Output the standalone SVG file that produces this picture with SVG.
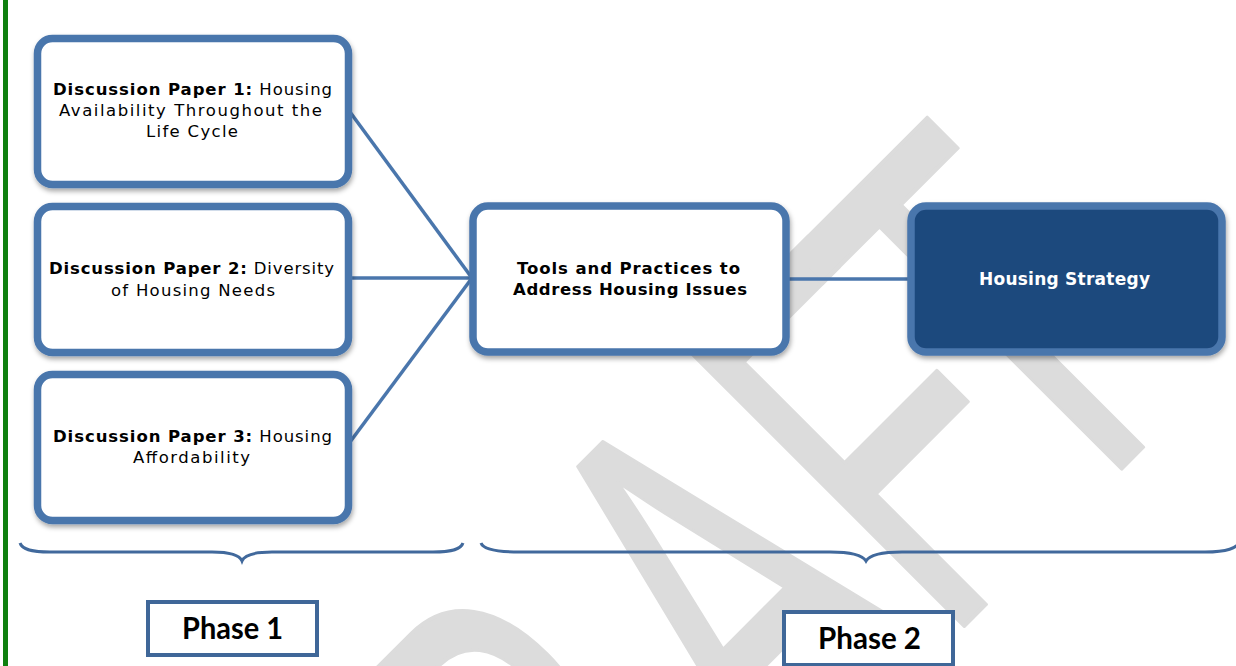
<svg xmlns="http://www.w3.org/2000/svg" width="1236" height="666" viewBox="0 0 1236 666">
<style>
.wm{font-family:"Liberation Sans",Arial,sans-serif;font-size:400px;fill:#dcdcdc;stroke:#dcdcdc;stroke-width:3;stroke-linejoin:round}
.box{fill:#ffffff;stroke:#4a76ac;stroke-width:7.5}
.dark{fill:#1f497d;stroke:#4a76ac;stroke-width:7.5}
.conn{stroke:#4a76ac;stroke-width:3.5;fill:none}
.brace{stroke:#41699c;stroke-width:3;fill:none}
.ph{fill:#ffffff;stroke:#3f6798;stroke-width:4}
.t{font-family:"DejaVu Sans",Verdana,sans-serif;font-size:16.5px;fill:#000}
.b{font-weight:bold}
.tw{font-family:"DejaVu Sans",Verdana,sans-serif;font-size:17px;font-weight:bold;fill:#ffffff}
.pt{font-family:Lato,"Liberation Sans",sans-serif;font-size:30px;font-weight:bold;fill:#000}
</style>
<defs>
<filter id="sh" x="-10%" y="-10%" width="120%" height="130%">
<feDropShadow dx="1" dy="3" stdDeviation="2.5" flood-color="#000" flood-opacity="0.35"/>
</filter>
</defs>
<rect x="3" y="0" width="5" height="666" fill="#0f800f"/>
<text class="wm" transform="translate(795,795) rotate(-45) scale(0.85,1.4)" x="-637 -348 -21 248 439" y="0">DRAFT</text>
<g id="connectors">
<line class="conn" x1="350" y1="112" x2="472" y2="278"/>
<line class="conn" x1="350" y1="278" x2="472" y2="278"/>
<line class="conn" x1="350" y1="442" x2="472" y2="278"/>
<line class="conn" x1="786" y1="279" x2="911" y2="279"/>
</g>
<g id="dp1">
<rect class="box" x="37.5" y="38.5" width="311" height="146" rx="15" filter="url(#sh)"/>
<text class="t" x="53" y="95" textLength="279" lengthAdjust="spacing"><tspan class="b">Discussion Paper 1:</tspan> Housing</text>
<text class="t" x="59" y="116" textLength="263" lengthAdjust="spacing">Availability Throughout the</text>
<text class="t" x="146" y="137" textLength="92" lengthAdjust="spacing">Life Cycle</text>
</g>
<g id="dp2">
<rect class="box" x="37.5" y="206.5" width="311" height="146" rx="15" filter="url(#sh)"/>
<text class="t" x="49" y="274" textLength="285" lengthAdjust="spacing"><tspan class="b">Discussion Paper 2:</tspan> Diversity</text>
<text class="t" x="111" y="296" textLength="164" lengthAdjust="spacing">of Housing Needs</text>
</g>
<g id="dp3">
<rect class="box" x="37.5" y="374.5" width="311" height="146" rx="15" filter="url(#sh)"/>
<text class="t" x="53" y="442" textLength="279" lengthAdjust="spacing"><tspan class="b">Discussion Paper 3:</tspan> Housing</text>
<text class="t" x="133" y="463" textLength="117" lengthAdjust="spacing">Affordability</text>
</g>
<g id="tools">
<rect class="box" x="473" y="206" width="313" height="146" rx="15" filter="url(#sh)"/>
<text class="t b" x="517" y="274" font-size="17" textLength="223" lengthAdjust="spacing">Tools and Practices to</text>
<text class="t b" x="513" y="295" font-size="17" textLength="234" lengthAdjust="spacing">Address Housing Issues</text>
</g>
<g id="strategy">
<rect class="dark" x="911" y="206" width="311" height="146" rx="15" filter="url(#sh)"/>
<text class="tw" x="979" y="285" textLength="171" lengthAdjust="spacing">Housing Strategy</text>
</g>
<g id="braces">
<path class="brace" d="M20,543 C22,549 30,552 50,552 L212,552 C232,552 240,556 242,561 C244,556 252,552 272,552 L433,552 C453,552 461,549 463,543"/>
<path class="brace" d="M481,543 C483,549 495,552 520,552 L830,552 C855,552 863,556 866,561 C869,556 877,552 902,552 L1205,552 C1228,552 1236,548 1240,542"/>
</g>
<g id="phase1">
<rect class="ph" x="148" y="602" width="169" height="53"/>
<text class="pt" x="182" y="639" textLength="101" lengthAdjust="spacingAndGlyphs">Phase 1</text>
</g>
<g id="phase2">
<rect class="ph" x="784" y="612" width="169" height="53"/>
<text class="pt" x="818" y="649" textLength="103" lengthAdjust="spacingAndGlyphs">Phase 2</text>
</g>
</svg>
